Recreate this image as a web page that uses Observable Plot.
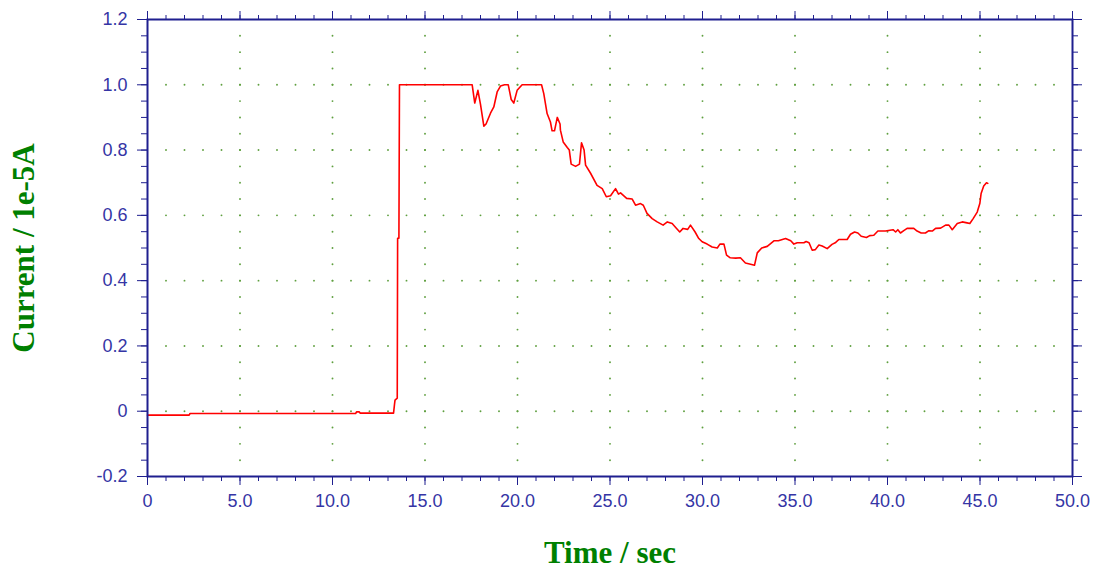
<!DOCTYPE html>
<html><head><meta charset="utf-8">
<script src="https://cdn.jsdelivr.net/npm/d3@7"></script>
<script src="https://cdn.jsdelivr.net/npm/@observablehq/plot@0.6"></script>
<style>body{margin:0;background:#fff}#chart svg{display:block}</style>
</head><body><div id="chart"></div>
<script>
const time = [0, 2.25, 2.3, 11.25, 11.3, 11.45, 11.5, 13.3, 13.35, 13.38, 13.5, 13.52, 13.59, 13.62,
  17.55, 17.69, 17.86, 18.0, 18.18, 18.3, 18.54, 18.72, 18.9, 19.08, 19.3, 19.5, 19.66, 19.8, 19.98, 20.25,
  21.3, 21.42, 21.6, 21.78, 21.87, 22.0, 22.15, 22.3, 22.32, 22.47, 22.69, 22.8, 22.9, 23.14, 23.35, 23.46,
  23.6, 23.68, 23.95, 24.3, 24.58, 24.8, 25.03, 25.3, 25.46, 25.57, 25.9, 26.2, 26.38, 26.65, 26.8, 27.0,
  27.28, 27.55, 27.87, 28.1, 28.36, 28.55, 28.77, 28.95, 29.2, 29.35, 29.6, 29.8, 29.98, 30.25, 30.52,
  30.8, 30.94, 31.16, 31.3, 31.5, 31.8, 32.05, 32.32, 32.6, 32.81, 32.96, 33.2, 33.5, 33.86, 34.1, 34.49,
  34.77, 34.94, 35.12, 35.48, 35.6, 35.76, 35.93, 36.1, 36.29, 36.47, 36.74, 37.0, 37.2, 37.37, 37.82,
  38.0, 38.22, 38.4, 38.58, 38.86, 39.04, 39.26, 39.48, 39.89, 40.3, 40.44, 40.56, 40.7, 40.88, 41.06,
  41.42, 41.6, 41.82, 42.05, 42.24, 42.42, 42.6, 42.87, 43.14, 43.32, 43.5, 43.77, 44.04, 44.3, 44.45,
  44.63, 44.85, 44.99, 45.06, 45.2, 45.35, 45.42];
const current = [-0.012, -0.012, -0.007, -0.007, -0.002, -0.002, -0.006, -0.006, 0.02, 0.034, 0.04, 0.53, 0.53, 1.0,
  1.0, 0.944, 0.983, 0.94, 0.873, 0.88, 0.913, 0.932, 0.978, 0.996, 1.0, 1.0, 0.955, 0.944, 0.983, 1.0,
  1.0, 0.973, 0.912, 0.886, 0.859, 0.859, 0.9, 0.88, 0.861, 0.825, 0.808, 0.8, 0.757, 0.75, 0.757, 0.822,
  0.8, 0.754, 0.729, 0.692, 0.682, 0.657, 0.66, 0.682, 0.665, 0.669, 0.652, 0.65, 0.631, 0.636, 0.631, 0.606,
  0.59, 0.58, 0.57, 0.58, 0.575, 0.563, 0.549, 0.56, 0.557, 0.57, 0.549, 0.529, 0.519, 0.512, 0.503,
  0.5, 0.512, 0.512, 0.478, 0.47, 0.469, 0.47, 0.454, 0.45, 0.447, 0.485, 0.5, 0.505, 0.522, 0.522, 0.529,
  0.522, 0.512, 0.516, 0.516, 0.52, 0.516, 0.493, 0.495, 0.509, 0.506, 0.498, 0.511, 0.517, 0.526, 0.526,
  0.542, 0.549, 0.546, 0.536, 0.532, 0.538, 0.539, 0.552, 0.552, 0.556, 0.549, 0.556, 0.546, 0.553, 0.56,
  0.56, 0.552, 0.546, 0.546, 0.553, 0.552, 0.56, 0.561, 0.57, 0.57, 0.556, 0.575, 0.58, 0.577, 0.575,
  0.59, 0.61, 0.636, 0.667, 0.69, 0.70, 0.698];
const xTicks = [0, 5, 10, 15, 20, 25, 30, 35, 40, 45, 50];
const yTicks = [-0.2, 0, 0.2, 0.4, 0.6, 0.8, 1.0, 1.2];
const xTitle = "Time / sec";
const yTitle = "Current / 1e-5A";

const data = time.map((t, i) => ({t, c: current[i]}));
const xMinor = d3.range(0, 51);
const yMinor = d3.range(-4, 25).map(i => +(i * 0.05).toFixed(2));
const axisColor = "#1f1f8f";
const labelColor = "#3535a5";
const gridColor = "#5f9f3f";
const fmt = d => d === 0 ? "0" : d.toFixed(1);
const none = () => "";

const hDots = [];
for (const y of yTicks.slice(1, -1)) for (const x of xMinor.slice(1, -1)) hDots.push({x, y});
const vDots = [];
for (const x of xTicks.slice(1, -1)) for (const y of yMinor.slice(1, -1)) vDots.push({x, y});

const chart = Plot.plot({
  width: 1096, height: 571,
  marginLeft: 147, marginRight: 24, marginTop: 19, marginBottom: 95,
  style: {fontFamily: "'Liberation Sans', Arial, sans-serif", fontSize: "18px", background: "#fff"},
  x: {domain: [0, 50]},
  y: {domain: [-0.2, 1.2]},
  marks: [
    Plot.dot(hDots, {x: "x", y: "y", r: 0.95, fill: gridColor, stroke: null}),
    Plot.dot(vDots, {x: "x", y: "y", r: 0.95, fill: gridColor, stroke: null}),
    Plot.line(data, {x: "t", y: "c", stroke: "#ff0000", strokeWidth: 1.6}),
    Plot.axisX({ticks: xMinor, tickSize: 5, tickFormat: none, stroke: axisColor, label: null}),
    Plot.axisX({ticks: xTicks, tickSize: 9, tickPadding: 9, tickFormat: fmt, stroke: axisColor, fill: labelColor, fontSize: 18, label: null}),
    Plot.axisX({anchor: "top", ticks: xMinor, tickSize: 5, tickFormat: none, stroke: axisColor, label: null}),
    Plot.axisX({anchor: "top", ticks: xTicks, tickSize: 9, tickFormat: none, stroke: axisColor, label: null}),
    Plot.axisY({ticks: yMinor, tickSize: 6, tickFormat: none, stroke: axisColor, label: null}),
    Plot.axisY({ticks: yTicks, tickSize: 10, tickPadding: 10, tickFormat: fmt, stroke: axisColor, fill: labelColor, fontSize: 18, label: null}),
    Plot.axisY({anchor: "right", ticks: yMinor, tickSize: 5, tickFormat: none, stroke: axisColor, label: null}),
    Plot.axisY({anchor: "right", ticks: yTicks, tickSize: 9, tickFormat: none, stroke: axisColor, label: null}),
    Plot.frame({stroke: axisColor, strokeWidth: 2}),
    Plot.text([xTitle], {frameAnchor: "bottom", dy: 77, textAnchor: "middle", lineAnchor: "middle", text: d => d,
      fill: "#008000", fontWeight: "bold", fontSize: 31, fontFamily: "'Liberation Serif', 'Times New Roman', serif"}),
    Plot.text([yTitle], {frameAnchor: "left", dx: -123, rotate: -90, textAnchor: "middle", lineAnchor: "middle", text: d => d,
      fill: "#008000", fontWeight: "bold", fontSize: 31, fontFamily: "'Liberation Serif', 'Times New Roman', serif"})
  ]
});
document.getElementById("chart").append(chart);
</script>
</body></html>
